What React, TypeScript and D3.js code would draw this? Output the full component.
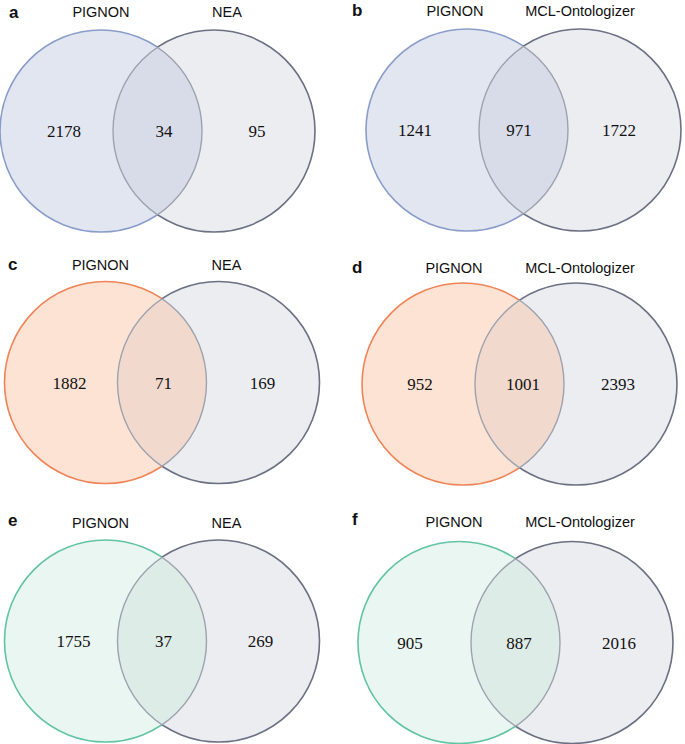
import React, { useEffect, useRef } from "react";
import * as d3 from "d3";

// ---- data ----
const panelLetters = ["a", "b", "c", "d", "e", "f"];
const leftSetNames = ["PIGNON", "PIGNON", "PIGNON", "PIGNON", "PIGNON", "PIGNON"];
const rightSetNames = ["NEA", "MCL-Ontologizer", "NEA", "MCL-Ontologizer", "NEA", "MCL-Ontologizer"];
const leftOnly = [2178, 1241, 1882, 952, 1755, 905];
const both = [34, 971, 71, 1001, 37, 887];
const rightOnly = [95, 1722, 169, 2393, 269, 2016];
const themes = ["blue", "blue", "orange", "orange", "green", "green"];

// ---- layout / style ----
const layout = [
  { cx: 101, cy: 131, lblY: 17, letX: 9, letY: 18, nx: [-37, 63, 156], lblX: [0, 126] },
  { cx: 467, cy: 130, lblY: 16, letX: 352, letY: 16, nx: [-52, 52, 152], lblX: [-12, 113] },
  { cx: 105.5, cy: 382.5, lblY: 270, letX: 8, letY: 270, nx: [-36, 58, 157], lblX: [-5, 121] },
  { cx: 463, cy: 384, lblY: 273, letX: 352, letY: 273, nx: [-43, 60, 155], lblX: [-9, 117] },
  { cx: 105.5, cy: 641, lblY: 528, letX: 8, letY: 526, nx: [-32, 58, 155], lblX: [-5, 121] },
  { cx: 459, cy: 642.5, lblY: 527, letX: 352, letY: 525, nx: [-49, 60, 160], lblX: [-5, 121] },
];
const R = 101;
const D = 113;

const themeStyle: Record<string, { fill: string; stroke: string; overlap: string }> = {
  blue: { fill: "#e1e6f1", stroke: "#8a9cca", overlap: "#d8dce8" },
  orange: { fill: "#fde3d4", stroke: "#ef8458", overlap: "#f1dacd" },
  green: { fill: "#e9f6f1", stroke: "#62c4a2", overlap: "#deece8" },
};
const grayFill = "#ecedf1";
const grayStroke = "#6b7082";
const innerStroke = "#9ea2ae";

export default function App() {
  const ref = useRef<SVGSVGElement | null>(null);

  useEffect(() => {
    const svg = d3.select(ref.current);
    svg.selectAll("*").remove();
    const defs = svg.append("defs");
    const fmt = d3.format("d");

    panelLetters.forEach((letter, i) => {
      const L = layout[i];
      const st = themeStyle[themes[i]];
      const x = d3.scaleLinear().domain([0, 1]).range([L.cx, L.cx + D]);
      const lx = x(0);
      const rx = x(1);
      const cy = L.cy;

      defs.append("clipPath").attr("id", `inR${i}`)
        .append("circle").attr("cx", rx).attr("cy", cy).attr("r", R);
      defs.append("clipPath").attr("id", `inL${i}`)
        .append("circle").attr("cx", lx).attr("cy", cy).attr("r", R);
      const mR = defs.append("mask").attr("id", `outR${i}`);
      mR.append("rect").attr("x", 0).attr("y", 0).attr("width", 685).attr("height", 744).attr("fill", "white");
      mR.append("circle").attr("cx", rx).attr("cy", cy).attr("r", R).attr("fill", "black");
      const mL = defs.append("mask").attr("id", `outL${i}`);
      mL.append("rect").attr("x", 0).attr("y", 0).attr("width", 685).attr("height", 744).attr("fill", "white");
      mL.append("circle").attr("cx", lx).attr("cy", cy).attr("r", R).attr("fill", "black");

      const g = svg.append("g");
      g.append("circle").attr("cx", rx).attr("cy", cy).attr("r", R).attr("fill", grayFill);
      g.append("circle").attr("cx", lx).attr("cy", cy).attr("r", R).attr("fill", st.fill)
        .attr("mask", `url(#outR${i})`);
      g.append("circle").attr("cx", lx).attr("cy", cy).attr("r", R).attr("fill", st.overlap)
        .attr("clip-path", `url(#inR${i})`);
      g.append("circle").attr("cx", lx).attr("cy", cy).attr("r", R).attr("fill", "none")
        .attr("stroke", st.stroke).attr("stroke-width", 1.6).attr("mask", `url(#outR${i})`);
      g.append("circle").attr("cx", rx).attr("cy", cy).attr("r", R).attr("fill", "none")
        .attr("stroke", grayStroke).attr("stroke-width", 1.6).attr("mask", `url(#outL${i})`);
      const inner = g.append("g");
      inner.append("circle").attr("cx", lx).attr("cy", cy).attr("r", R).attr("fill", "none")
        .attr("stroke", innerStroke).attr("stroke-width", 1.4).attr("clip-path", `url(#inR${i})`);
      inner.append("circle").attr("cx", rx).attr("cy", cy).attr("r", R).attr("fill", "none")
        .attr("stroke", innerStroke).attr("stroke-width", 1.4).attr("clip-path", `url(#inL${i})`);

      g.append("text").attr("x", L.letX).attr("y", L.letY).text(letter)
        .attr("font-family", "Liberation Sans, Arial, sans-serif").attr("font-weight", "bold")
        .attr("font-size", 17).attr("fill", "#111");
      const names = [leftSetNames[i], rightSetNames[i]];
      names.forEach((n, k) => {
        g.append("text").attr("x", lx + L.lblX[k]).attr("y", L.lblY)
          .attr("text-anchor", "middle").text(n)
          .attr("font-family", "Liberation Sans, Arial, sans-serif").attr("font-size", 14.5)
          .attr("fill", "#111");
      });
      const vals = [leftOnly[i], both[i], rightOnly[i]];
      vals.forEach((v, k) => {
        g.append("text").attr("x", lx + L.nx[k]).attr("y", cy + 6)
          .attr("text-anchor", "middle").text(fmt(v))
          .attr("font-family", "Liberation Serif, Times New Roman, serif").attr("font-size", 17)
          .attr("fill", "#111");
      });
    });
  }, []);

  return (
    <svg ref={ref} width={685} height={744}
      style={{ position: "absolute", left: 0, top: 0, background: "#fff" }} />
  );
}
